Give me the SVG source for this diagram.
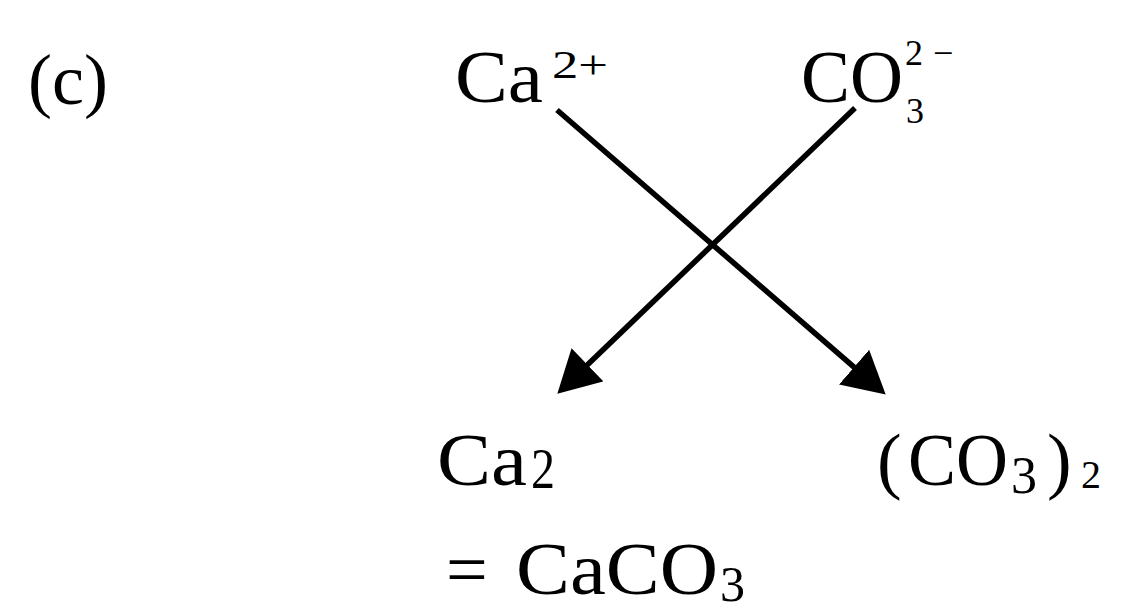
<svg xmlns="http://www.w3.org/2000/svg" width="1122" height="611" viewBox="0 0 1122 611">
<style>
text{font-family:"Liberation Serif","DejaVu Serif",serif;fill:#000}
.m{font-size:74px}
.conn{stroke:#000;stroke-width:5.5;fill:none;marker-end:url(#ah)}
</style>
<defs>
<marker id="ah" markerUnits="userSpaceOnUse" markerWidth="42" markerHeight="46" viewBox="0 0 40 44" refX="20" refY="22" orient="auto">
<path d="M0,0 L40,22 L0,44 Z" fill="#000"/>
</marker>
</defs>
<rect width="1122" height="611" fill="#fff"/>
<g id="label-c"><text x="28" y="104" font-size="72">(c)</text></g>
<g id="ca-ion"><text class="m" x="455" y="102" textLength="88" lengthAdjust="spacingAndGlyphs">Ca</text><text x="552" y="78" font-size="40" textLength="56" lengthAdjust="spacingAndGlyphs">2+</text></g>
<g id="co3-ion"><text class="m" x="801" y="102" textLength="102" lengthAdjust="spacingAndGlyphs">CO</text><text x="905" y="65" font-size="36">2</text><text x="933" y="65" font-size="36">−</text><text x="906" y="123" font-size="36">3</text></g>
<g id="connectors">
<line class="conn" x1="557" y1="110" x2="869.9" y2="380.9"/>
<line class="conn" x1="855" y1="108" x2="572.4" y2="379.2"/>
</g>
<g id="ca2"><text class="m" x="437" y="485" textLength="90" lengthAdjust="spacingAndGlyphs">Ca</text><text x="531" y="488" font-size="56" textLength="24" lengthAdjust="spacingAndGlyphs">2</text></g>
<g id="co3-2"><text class="m" x="877" y="485">(</text><text class="m" x="908" y="485" textLength="100" lengthAdjust="spacingAndGlyphs">CO</text><text x="1011" y="493" font-size="52">3</text><text class="m" x="1047" y="485">)</text><text x="1081" y="488" font-size="40">2</text></g>
<g id="caco3"><text class="m" x="446" y="594">=</text><text class="m" x="516" y="594" textLength="202" lengthAdjust="spacingAndGlyphs">CaCO</text><text x="720" y="601" font-size="50">3</text></g>
</svg>
